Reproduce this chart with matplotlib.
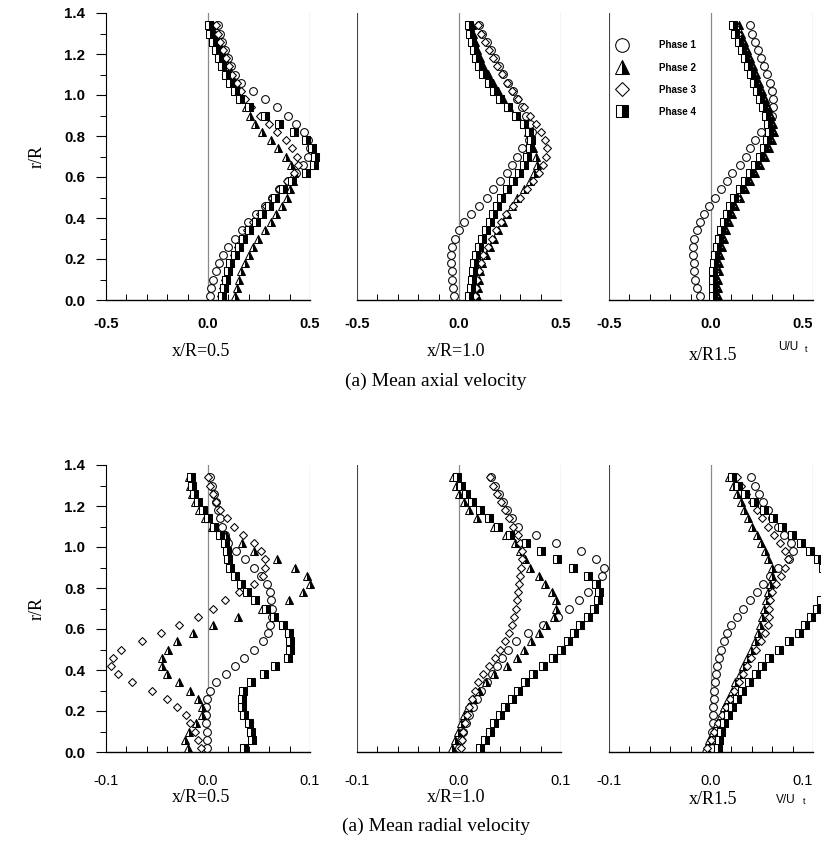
import matplotlib.pyplot as plt
from matplotlib.ticker import MultipleLocator

# radial stations r/R (shared by every profile)
R_POS = [0.02, 0.06, 0.10, 0.14, 0.18, 0.22, 0.26, 0.30, 0.34, 0.38, 0.42, 0.46,
         0.50, 0.54, 0.58, 0.62, 0.66, 0.70, 0.74, 0.78, 0.82, 0.86, 0.90, 0.94,
         0.98, 1.02, 1.06, 1.10, 1.14, 1.18, 1.22, 1.26, 1.30, 1.34]

PHASES = ["Phase 1", "Phase 2", "Phase 3", "Phase 4"]
STATIONS = ["x/R=0.5", "x/R=1.0", "x/R1.5"]

# ---- mean axial velocity U/Ut ----
U05_P1 = [0.01, 0.015, 0.025, 0.04, 0.055, 0.075, 0.10, 0.13, 0.165, 0.195, 0.235, 0.28,
          0.315, 0.35, 0.39, 0.43, 0.465, 0.49, 0.50, 0.49, 0.47, 0.43, 0.39, 0.34,
          0.28, 0.22, 0.16, 0.13, 0.115, 0.10, 0.085, 0.07, 0.06, 0.05]
U05_P2 = [0.13, 0.14, 0.15, 0.16, 0.18, 0.20, 0.22, 0.245, 0.28, 0.31, 0.335, 0.365,
          0.385, 0.40, 0.415, 0.42, 0.405, 0.38, 0.345, 0.31, 0.265, 0.23, 0.205, 0.185,
          0.165, 0.145, 0.13, 0.115, 0.10, 0.08, 0.065, 0.05, 0.035, 0.025]
U05_P3 = [0.065, 0.075, 0.085, 0.10, 0.11, 0.125, 0.145, 0.165, 0.19, 0.22, 0.255, 0.285,
          0.315, 0.35, 0.385, 0.42, 0.44, 0.435, 0.41, 0.38, 0.34, 0.30, 0.255, 0.21,
          0.18, 0.16, 0.14, 0.12, 0.105, 0.09, 0.075, 0.06, 0.05, 0.04]
U05_P4 = [0.07, 0.08, 0.09, 0.10, 0.11, 0.13, 0.15, 0.17, 0.20, 0.235, 0.265, 0.30,
          0.33, 0.37, 0.41, 0.48, 0.52, 0.525, 0.51, 0.48, 0.42, 0.35, 0.28, 0.20,
          0.155, 0.13, 0.11, 0.09, 0.07, 0.055, 0.04, 0.025, 0.01, 0.005]

U10_P1 = [-0.025, -0.03, -0.033, -0.036, -0.04, -0.04, -0.035, -0.022, 0.0, 0.025, 0.06, 0.10,
          0.135, 0.165, 0.20, 0.235, 0.26, 0.285, 0.31, 0.345, 0.36, 0.35, 0.33, 0.31,
          0.285, 0.265, 0.24, 0.215, 0.195, 0.175, 0.155, 0.135, 0.115, 0.10]
U10_P2 = [0.09, 0.095, 0.10, 0.105, 0.115, 0.13, 0.15, 0.17, 0.19, 0.215, 0.235, 0.26,
          0.285, 0.32, 0.35, 0.37, 0.38, 0.375, 0.365, 0.355, 0.34, 0.32, 0.285, 0.245,
          0.215, 0.19, 0.165, 0.14, 0.12, 0.105, 0.09, 0.08, 0.07, 0.065]
U10_P3 = [0.08, 0.085, 0.09, 0.10, 0.11, 0.12, 0.14, 0.16, 0.18, 0.205, 0.23, 0.265,
          0.30, 0.335, 0.365, 0.39, 0.41, 0.425, 0.43, 0.42, 0.40, 0.375, 0.35, 0.32,
          0.29, 0.26, 0.235, 0.21, 0.185, 0.165, 0.145, 0.125, 0.11, 0.095]
U10_P4 = [0.05, 0.06, 0.065, 0.07, 0.075, 0.085, 0.10, 0.115, 0.13, 0.15, 0.165, 0.185,
          0.205, 0.235, 0.265, 0.295, 0.32, 0.335, 0.35, 0.355, 0.345, 0.32, 0.28, 0.24,
          0.20, 0.17, 0.145, 0.12, 0.10, 0.085, 0.075, 0.065, 0.055, 0.05]

U15_P1 = [-0.055, -0.07, -0.078, -0.082, -0.085, -0.088, -0.088, -0.082, -0.07, -0.055, -0.035, -0.01,
          0.02, 0.05, 0.08, 0.105, 0.14, 0.17, 0.19, 0.215, 0.245, 0.28, 0.30, 0.305,
          0.305, 0.30, 0.29, 0.275, 0.26, 0.245, 0.23, 0.215, 0.20, 0.19]
U15_P2 = [0.035, 0.035, 0.035, 0.037, 0.04, 0.045, 0.052, 0.062, 0.075, 0.09, 0.105, 0.12,
          0.14, 0.165, 0.19, 0.215, 0.24, 0.265, 0.285, 0.30, 0.31, 0.305, 0.295, 0.28,
          0.265, 0.25, 0.235, 0.22, 0.205, 0.19, 0.175, 0.16, 0.145, 0.135]
U15_P3 = [0.02, 0.02, 0.02, 0.022, 0.025, 0.03, 0.037, 0.047, 0.06, 0.075, 0.09, 0.105,
          0.125, 0.15, 0.175, 0.20, 0.225, 0.25, 0.27, 0.285, 0.295, 0.29, 0.28, 0.265,
          0.25, 0.235, 0.22, 0.205, 0.19, 0.175, 0.16, 0.145, 0.13, 0.12]
U15_P4 = [0.01, 0.01, 0.01, 0.012, 0.015, 0.02, 0.027, 0.037, 0.05, 0.065, 0.08, 0.095,
          0.115, 0.14, 0.165, 0.19, 0.215, 0.24, 0.26, 0.275, 0.285, 0.28, 0.27, 0.255,
          0.24, 0.225, 0.21, 0.195, 0.18, 0.165, 0.15, 0.135, 0.12, 0.11]

# ---- mean radial velocity V/Ut ----
V05_P1 = [-0.001, -0.001, -0.001, -0.002, -0.002, -0.002, -0.001, 0.002, 0.008, 0.018, 0.026, 0.035,
          0.045, 0.054, 0.059, 0.061, 0.063, 0.063, 0.062, 0.061, 0.058, 0.052, 0.045, 0.036,
          0.027, 0.02, 0.017, 0.014, 0.012, 0.01, 0.008, 0.006, 0.004, 0.002]
V05_P2 = [-0.02, -0.023, -0.019, -0.012, -0.006, -0.006, -0.01, -0.018, -0.028, -0.04, -0.045, -0.045,
          -0.039, -0.03, -0.015, 0.005, 0.029, 0.053, 0.079, 0.093, 0.10, 0.097, 0.085, 0.068,
          0.045, 0.033, 0.018, 0.004, -0.003, -0.009, -0.013, -0.016, -0.018, -0.019]
V05_P3 = [-0.007, -0.01, -0.013, -0.018, -0.022, -0.03, -0.04, -0.055, -0.075, -0.088, -0.095, -0.093,
          -0.085, -0.065, -0.046, -0.028, -0.01, 0.005, 0.017, 0.03, 0.045, 0.054, 0.056, 0.056,
          0.052, 0.045, 0.034, 0.025, 0.019, 0.012, 0.008, 0.005, 0.002, 0.0]
V05_P4 = [0.035, 0.043, 0.042, 0.04, 0.035, 0.033, 0.033, 0.034, 0.042, 0.055, 0.066, 0.078,
          0.08, 0.08, 0.079, 0.074, 0.065, 0.057, 0.046, 0.038, 0.032, 0.026, 0.022, 0.02,
          0.019, 0.017, 0.012, 0.006, 0.0, -0.005, -0.01, -0.014, -0.016, -0.017]

V10_P1 = [0.0, 0.002, 0.004, 0.007, 0.01, 0.014, 0.018, 0.022, 0.027, 0.032, 0.037, 0.042,
          0.048, 0.056, 0.068, 0.082, 0.097, 0.108, 0.118, 0.126, 0.134, 0.14, 0.142, 0.134,
          0.12, 0.095, 0.075, 0.058, 0.052, 0.047, 0.043, 0.039, 0.035, 0.031]
V10_P2 = [-0.007, -0.004, -0.001, 0.002, 0.005, 0.009, 0.014, 0.02, 0.026, 0.034, 0.047, 0.057,
          0.064, 0.071, 0.078, 0.085, 0.093, 0.095, 0.095, 0.091, 0.084, 0.078, 0.07, 0.065,
          0.06, 0.055, 0.046, 0.034, 0.018, 0.01, 0.005, 0.0, -0.003, -0.006]
V10_P3 = [0.002, 0.003, 0.004, 0.006, 0.008, 0.01, 0.013, 0.016, 0.019, 0.024, 0.029, 0.035,
          0.04, 0.045, 0.049, 0.052, 0.054, 0.056, 0.057, 0.058, 0.059, 0.06, 0.061, 0.062,
          0.062, 0.06, 0.058, 0.053, 0.049, 0.045, 0.041, 0.037, 0.033, 0.03]
V10_P4 = [0.021, 0.025, 0.03, 0.034, 0.04, 0.045, 0.052, 0.058, 0.065, 0.073, 0.082, 0.092,
          0.10, 0.107, 0.113, 0.119, 0.126, 0.132, 0.136, 0.137, 0.134, 0.126, 0.112, 0.096,
          0.08, 0.066, 0.05, 0.038, 0.029, 0.021, 0.013, 0.007, 0.002, -0.002]

V15_P1 = [0.001, 0.001, 0.001, 0.002, 0.002, 0.002, 0.003, 0.003, 0.004, 0.005, 0.006, 0.008,
          0.01, 0.013, 0.016, 0.02, 0.025, 0.031, 0.038, 0.045, 0.051, 0.058, 0.066, 0.076,
          0.08, 0.078, 0.072, 0.066, 0.06, 0.056, 0.051, 0.047, 0.043, 0.039]
V15_P2 = [-0.005, -0.002, 0.002, 0.006, 0.01, 0.013, 0.017, 0.021, 0.024, 0.028, 0.031, 0.035,
          0.039, 0.043, 0.046, 0.048, 0.05, 0.052, 0.054, 0.056, 0.058, 0.06, 0.06, 0.056,
          0.053, 0.049, 0.045, 0.04, 0.036, 0.032, 0.029, 0.025, 0.022, 0.018]
V15_P3 = [-0.004, 0.0, 0.003, 0.007, 0.011, 0.015, 0.019, 0.023, 0.027, 0.031, 0.035, 0.039,
          0.044, 0.049, 0.053, 0.056, 0.057, 0.057, 0.058, 0.06, 0.064, 0.069, 0.073, 0.075,
          0.073, 0.068, 0.062, 0.056, 0.05, 0.045, 0.04, 0.034, 0.029, 0.025]
V15_P4 = [0.007, 0.008, 0.01, 0.013, 0.017, 0.021, 0.025, 0.03, 0.037, 0.044, 0.05, 0.057,
          0.067, 0.076, 0.086, 0.092, 0.098, 0.104, 0.108, 0.115, 0.12, 0.118, 0.11, 0.105,
          0.097, 0.088, 0.079, 0.07, 0.061, 0.052, 0.042, 0.033, 0.026, 0.021]

AXIAL = [[U05_P1, U05_P2, U05_P3, U05_P4],
         [U10_P1, U10_P2, U10_P3, U10_P4],
         [U15_P1, U15_P2, U15_P3, U15_P4]]
RADIAL = [[V05_P1, V05_P2, V05_P3, V05_P4],
          [V10_P1, V10_P2, V10_P3, V10_P4],
          [V15_P1, V15_P2, V15_P3, V15_P4]]

U_TICKS = ["-0.5", "0.0", "0.5"]
V_TICKS = ["-0.1", "0.0", "0.1"]
R_TICKS = ["0.0", "0.2", "0.4", "0.6", "0.8", "1.0", "1.2", "1.4"]

SANS = "Liberation Sans"
SERIF = "Liberation Serif"

MARKERS = [
    dict(marker="o", ms=5.6, mfc="white", mec="black", mew=0.75),
    dict(marker="^", ms=5.8, mfc="black", mfcalt="white", fillstyle="right", mec="black", mew=0.75),
    dict(marker="D", ms=4.3, mfc="white", mec="black", mew=0.75),
    dict(marker="s", ms=5.2, mfc="black", mfcalt="white", fillstyle="right", mec="black", mew=0.75),
]

W, H = 821, 843
fig = plt.figure(figsize=(W / 100, H / 100), dpi=100)


def add_ax(left, top, width=204, height=287):
    return fig.add_axes([left / W, 1 - (top + height) / H, width / W, height / H])


def setup(ax, lim, minor, tick_labels, first, last, weight, pad):
    ax.set_xlim(-lim, lim)
    ax.set_ylim(0, 1.4)
    ax.patch.set_alpha(0)
    for s in ["top", "right"]:
        ax.spines[s].set_visible(False)
    ax.spines["left"].set_visible(first)
    ax.spines["bottom"].set_linewidth(1.0)
    ax.set_xticks([-lim, 0, lim])
    ax.set_xticklabels(tick_labels, fontfamily=SANS, fontsize=10.5, fontweight=weight)
    if last:
        # the far-right label sits at the figure edge; keep it inside
        ax.get_xticklabels()[-1].set_horizontalalignment("right")
    ax.xaxis.set_minor_locator(MultipleLocator(minor))
    ax.tick_params(axis="x", which="major", length=0, pad=pad)
    ax.tick_params(axis="x", which="minor", direction="in", length=4, width=0.7)
    ax.axvline(0, color="#8a8a8a", lw=0.9, zorder=1)
    ax.axvline(lim, color="#444444", lw=0.8, zorder=1)
    if not first:
        ax.axvline(-lim, color="#444444", lw=0.8, zorder=1)
    if first:
        ax.set_yticks([0.2 * i for i in range(8)])
        ax.set_yticklabels(R_TICKS, fontfamily=SANS, fontsize=10.8, fontweight="bold")
        ax.yaxis.set_minor_locator(MultipleLocator(0.1))
        ax.tick_params(axis="y", which="major", direction="out", length=7, width=0.8, pad=8)
        ax.tick_params(axis="y", which="minor", direction="out", length=4, width=0.7)
        ax.set_ylabel("r/R", fontfamily=SERIF, fontsize=13, labelpad=13)
    else:
        ax.set_yticks([])


LEFTS = [106, 357, 609]
rows = [(13, AXIAL, 0.5, 0.1, U_TICKS, "bold", 12),
        (465, RADIAL, 0.1, 0.02, V_TICKS, "normal", 16)]
axes_rows = []
for top, data, lim, minor, labels, weight, pad in rows:
    row = []
    for j, left in enumerate(LEFTS):
        ax = add_ax(left, top)
        setup(ax, lim, minor, labels, j == 0, j == 2, weight, pad)
        for k, vals in enumerate(data[j]):
            ax.plot(vals, R_POS, linestyle="none", clip_on=False, zorder=3 + k,
                    label=PHASES[k], **MARKERS[k])
        row.append(ax)
    axes_rows.append(row)

# legend in the x/R=1.5 axial panel
leg = axes_rows[0][2].legend(loc="upper left", bbox_to_anchor=(-0.005, 0.935), frameon=False,
                             markerscale=1.75, handlelength=1.0, handletextpad=3.3,
                             labelspacing=1.25, prop=dict(family=SANS, size=7, weight="bold"))


def ftext(x, y, s, **kw):
    fig.text(x / W, 1 - y / H, s, **kw)


for y in (352, 797):
    ftext(201, y, STATIONS[0], fontfamily=SERIF, fontsize=13, ha="center", va="center")
    ftext(456, y, STATIONS[1], fontfamily=SERIF, fontsize=13, ha="center", va="center")
    ftext(713, y + 3, STATIONS[2], fontfamily=SERIF, fontsize=13, ha="center", va="center")

ftext(788, 347, "U/U", fontfamily=SANS, fontsize=8.5, ha="center", va="center")
ftext(806, 349, "t", fontfamily=SANS, fontsize=6.5, ha="center", va="center")
ftext(786, 800, "V/U", fontfamily=SANS, fontsize=8.5, ha="center", va="center")
ftext(804, 802, "t", fontfamily=SANS, fontsize=6.5, ha="center", va="center")

ftext(436, 381, "(a) Mean axial velocity", fontfamily=SERIF, fontsize=14, ha="center", va="center")
ftext(436, 826, "(a) Mean radial velocity", fontfamily=SERIF, fontsize=14, ha="center", va="center")

fig.savefig("out.png", dpi=100)
